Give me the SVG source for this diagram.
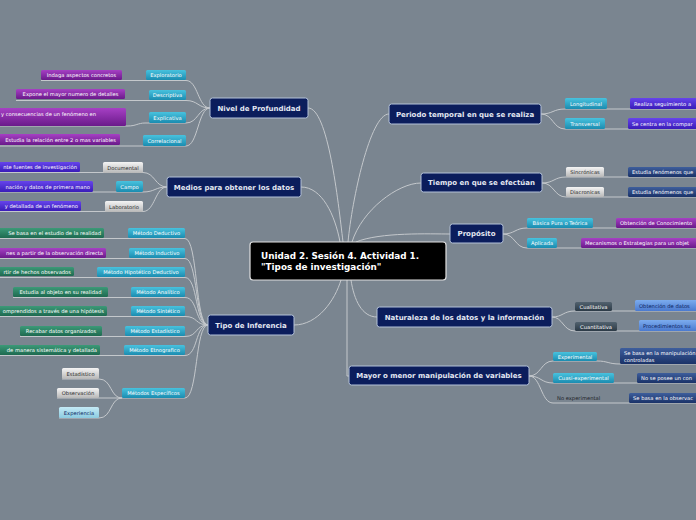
<svg xmlns="http://www.w3.org/2000/svg" width="696" height="520" viewBox="0 0 696 520">
<defs>
<linearGradient id="cy" x1="0" y1="0" x2="0" y2="1"><stop offset="0" stop-color="#48c2de"/><stop offset="1" stop-color="#1b8cb0"/></linearGradient>
<linearGradient id="pu" x1="0" y1="0" x2="0" y2="1"><stop offset="0" stop-color="#a640c4"/><stop offset="1" stop-color="#6a1a8a"/></linearGradient>
<linearGradient id="vi" x1="0" y1="0" x2="0" y2="1"><stop offset="0" stop-color="#6644ec"/><stop offset="1" stop-color="#3a1cb8"/></linearGradient>
<linearGradient id="gr" x1="0" y1="0" x2="0" y2="1"><stop offset="0" stop-color="#3c9a78"/><stop offset="1" stop-color="#1e6a50"/></linearGradient>
<linearGradient id="gy" x1="0" y1="0" x2="0" y2="1"><stop offset="0" stop-color="#f4f4f4"/><stop offset="1" stop-color="#b8b8b8"/></linearGradient>
<linearGradient id="db" x1="0" y1="0" x2="0" y2="1"><stop offset="0" stop-color="#3e5e9c"/><stop offset="1" stop-color="#1a3268"/></linearGradient>
<linearGradient id="lb" x1="0" y1="0" x2="0" y2="1"><stop offset="0" stop-color="#7cacee"/><stop offset="1" stop-color="#4a7ad0"/></linearGradient>
<linearGradient id="dg" x1="0" y1="0" x2="0" y2="1"><stop offset="0" stop-color="#52626f"/><stop offset="1" stop-color="#2c3a46"/></linearGradient>
<linearGradient id="pa" x1="0" y1="0" x2="0" y2="1"><stop offset="0" stop-color="#c4eaf6"/><stop offset="1" stop-color="#8ccbe0"/></linearGradient>
</defs>
<style>
.main rect{fill:#0b1d5c;stroke:#b4c2d8;stroke-width:1}
.main text{font-family:"DejaVu Sans",Verdana,sans-serif;font-weight:bold;font-size:7px;fill:#e4e8f2;text-anchor:middle}
.leaf text{font-family:"DejaVu Sans",Verdana,sans-serif;font-size:5.2px;fill:#ffffff}
.leaf text.dk{fill:#2a2a2a}
.leaf text.nv{fill:#0c1f5e}
.m{text-anchor:middle}
.e{text-anchor:end}
#connectors path{fill:none;stroke:#c4c8cc;stroke-width:1}
</style>
<rect width="696" height="520" fill="#7a8590"/>
<g id="connectors">
<path d="M210,108 C198,108 198,80.5 186,80.5 H41"/>
<path d="M210,108 C198,108 198,100.5 186,100.5 H16"/>
<path d="M210,108 C198,108 198,123 186,123 H145 C138,123 136,126 128,126 H0"/>
<path d="M210,108 C198,108 198,146 186,146 H0"/>
<path d="M167,187 C155,187 155,172.5 143,172.5 H0"/>
<path d="M167,187 C155,187 155,192 143,192 H0"/>
<path d="M167,187 C155,187 155,211.5 143,211.5 H0"/>
<path d="M208,325 C195,325 198,238.5 185,238.5 H0"/>
<path d="M208,325 C195,325 198,258.5 185,258.5 H0"/>
<path d="M208,325 C195,325 198,277.5 185,277.5 H0"/>
<path d="M208,325 C195,325 198,297.5 185,297.5 H13"/>
<path d="M208,325 C195,325 198,316.5 185,316.5 H0"/>
<path d="M208,325 C195,325 198,336.5 185,336.5 H20"/>
<path d="M208,325 C195,325 198,355.5 185,355.5 H0"/>
<path d="M208,325 C195,325 198,398 185,398 H57"/>
<path d="M122,398 C110,398 112,379 99,379 H62"/>
<path d="M122,398 C110,398 112,418 99,418 H59"/>
<path d="M541,114 C553,114 553,109 565,109 H696"/>
<path d="M541,114 C553,114 553,129 565,129 H696"/>
<path d="M542,183 C554,183 554,177 566,177 H696"/>
<path d="M542,183 C554,183 554,197 566,197 H696"/>
<path d="M503,234 C515,234 515,228 527,228 H696"/>
<path d="M503,234 C515,234 515,248 527,248 H696"/>
<path d="M552,317 C563,317 563,311 575,311 H696"/>
<path d="M552,317 C563,317 563,331 575,331 H696"/>
<path d="M529,376 C541,376 541,361 553,361 H597 C608,361 608,364 620,364 H696"/>
<path d="M529,376 C541,376 541,383 553,383 H696"/>
<path d="M529,376 C541,376 541,403 553,403 H696"/>
<path d="M308,108 C328,108 338,200 343,242"/>
<path d="M301,187 C322,187 335,215 340,242"/>
<path d="M389,114 C370,114 352,200 348,242"/>
<path d="M421,183 C398,183 362,210 352,242"/>
<path d="M450,234 C430,234 380,232 356,242"/>
<path d="M294,325 C318,325 335,300 341,280"/>
<path d="M377,317 C362,317 354,300 351,280"/>
<path d="M347,280 V376 H349"/>
</g>
<g id="central">
<rect x="250" y="242" width="196" height="38" rx="3" fill="#000" stroke="#e0e0e0" stroke-width="1.2"/>
<text x="261" y="258.5" font-family="DejaVu Sans, Verdana, sans-serif" font-weight="bold" font-size="8.8" fill="#fff">Unidad 2. Sesión 4. Actividad 1.</text>
<text x="261" y="269.5" font-family="DejaVu Sans, Verdana, sans-serif" font-weight="bold" font-size="8.8" fill="#fff">"Tipos de investigación"</text>
</g>
<g id="n-nivel" class="main"><rect x="210" y="98" width="98" height="20" rx="2.5"/><text x="259" y="110.5">Nivel de Profundidad</text></g>
<g id="n-medios" class="main"><rect x="167" y="177" width="134" height="20" rx="2.5"/><text x="234" y="189.5">Medios para obtener los datos</text></g>
<g id="n-tipo" class="main"><rect x="208" y="315" width="86" height="20" rx="2.5"/><text x="251" y="327.5">Tipo de Inferencia</text></g>
<g id="n-periodo" class="main"><rect x="389" y="104" width="152" height="20" rx="2.5"/><text x="465" y="116.5">Periodo temporal en que se realiza</text></g>
<g id="n-tiempo" class="main"><rect x="421" y="173" width="121" height="19" rx="2.5"/><text x="481.5" y="185">Tiempo en que se efectúan</text></g>
<g id="n-proposito" class="main"><rect x="450" y="224" width="53" height="19" rx="2.5"/><text x="476.5" y="236">Propósito</text></g>
<g id="n-naturaleza" class="main"><rect x="377" y="307" width="175" height="20" rx="2.5"/><text x="464.5" y="319.5">Naturaleza de los datos y la información</text></g>
<g id="n-mayor" class="main"><rect x="349" y="366" width="180" height="19" rx="2.5"/><text x="439" y="378">Mayor o menor manipulación de variables</text></g>

<g id="l-exploratorio" class="leaf"><rect x="146" y="70" width="40" height="10" rx="1.5" fill="url(#cy)"/><text class="m" x="166" y="77">Exploratorio</text></g>
<g id="l-indaga" class="leaf"><rect x="41" y="70" width="81" height="10" rx="1.5" fill="url(#pu)"/><text class="m" x="81.5" y="77">Indaga aspectos concretos</text></g>
<g id="l-descriptiva" class="leaf"><rect x="149" y="90" width="37" height="10" rx="1.5" fill="url(#cy)"/><text class="m" x="167.5" y="97">Descriptiva</text></g>
<g id="l-expone" class="leaf"><rect x="16" y="89" width="109" height="10" rx="1.5" fill="url(#pu)"/><text class="m" x="70.5" y="96">Expone el mayor numero de detalles</text></g>
<g id="l-explicativa" class="leaf"><rect x="149" y="112" width="37" height="11" rx="1.5" fill="url(#cy)"/><text class="m" x="167.5" y="119.5">Explicativa</text></g>
<g id="l-causas" class="leaf"><rect x="-4" y="108" width="130" height="18" rx="1.5" fill="url(#pu)"/><text x="1" y="115.5">y consecuencias de un fenómeno en</text></g>
<g id="l-correlacional" class="leaf"><rect x="143" y="135" width="43" height="11" rx="1.5" fill="url(#cy)"/><text class="m" x="164.5" y="142.5">Correlacional</text></g>
<g id="l-estudia-rel" class="leaf"><rect x="-4" y="134" width="124" height="11" rx="1.5" fill="url(#pu)"/><text class="e" x="116" y="141.5">Estudia la relación entre 2 o mas variables</text></g>

<g id="l-documental" class="leaf"><rect x="103" y="162" width="40" height="11" rx="1.5" fill="url(#gy)"/><text class="m dk" x="123" y="169.5">Documental</text></g>
<g id="l-doc-c" class="leaf"><rect x="-4" y="162" width="84" height="10" rx="1.5" fill="url(#vi)"/><text class="e" x="77" y="169">nte fuentes de investigación</text></g>
<g id="l-campo" class="leaf"><rect x="116" y="181" width="27" height="11" rx="1.5" fill="url(#cy)"/><text class="m" x="129.5" y="188.5">Campo</text></g>
<g id="l-campo-c" class="leaf"><rect x="-4" y="181" width="97" height="11" rx="1.5" fill="url(#vi)"/><text class="e" x="90" y="188.5">nación y datos de primera mano</text></g>
<g id="l-laboratorio" class="leaf"><rect x="105" y="201" width="38" height="11" rx="1.5" fill="url(#gy)"/><text class="m dk" x="124" y="208.5">Laboratorio</text></g>
<g id="l-lab-c" class="leaf"><rect x="-4" y="201" width="85" height="10" rx="1.5" fill="url(#vi)"/><text class="e" x="78" y="208">y detallada de un fenómeno</text></g>

<g id="l-deductivo" class="leaf"><rect x="128" y="228" width="57" height="10" rx="1.5" fill="url(#cy)"/><text class="m" x="156.5" y="235">Método Deductivo</text></g>
<g id="l-deductivo-c" class="leaf"><rect x="-4" y="228" width="108" height="10" rx="1.5" fill="url(#gr)"/><text class="e" x="101" y="235">Se basa en el estudio de la realidad</text></g>
<g id="l-inductivo" class="leaf"><rect x="129" y="248" width="56" height="10" rx="1.5" fill="url(#cy)"/><text class="m" x="157" y="255">Método Inductivo</text></g>
<g id="l-inductivo-c" class="leaf"><rect x="-4" y="248" width="110" height="10" rx="1.5" fill="url(#pu)"/><text class="e" x="103" y="255">nes a partir de la observación directa</text></g>
<g id="l-hipotetico" class="leaf"><rect x="97" y="267" width="88" height="10" rx="1.5" fill="url(#cy)"/><text class="m" x="141" y="274">Método Hipotético Deductivo</text></g>
<g id="l-hipotetico-c" class="leaf"><rect x="-4" y="267" width="78" height="9" rx="1.5" fill="url(#gr)"/><text class="e" x="71" y="273.5">rtir de hechos observados</text></g>
<g id="l-analitico" class="leaf"><rect x="131" y="287" width="54" height="10" rx="1.5" fill="url(#cy)"/><text class="m" x="158" y="294">Método Analítico</text></g>
<g id="l-analitico-c" class="leaf"><rect x="13" y="287" width="95" height="10" rx="1.5" fill="url(#gr)"/><text class="m" x="60.5" y="294">Estudia al objeto en su realidad</text></g>
<g id="l-sintetico" class="leaf"><rect x="131" y="306" width="54" height="10" rx="1.5" fill="url(#cy)"/><text class="m" x="158" y="313">Método Sintético</text></g>
<g id="l-sintetico-c" class="leaf"><rect x="-4" y="306" width="111" height="10" rx="1.5" fill="url(#gr)"/><text class="e" x="104" y="313">omprendidos a través de una hipótesis</text></g>
<g id="l-estadistico" class="leaf"><rect x="125" y="326" width="60" height="10" rx="1.5" fill="url(#cy)"/><text class="m" x="155" y="333">Método Estadístico</text></g>
<g id="l-estadistico-c" class="leaf"><rect x="20" y="326" width="82" height="10" rx="1.5" fill="url(#gr)"/><text class="m" x="61" y="333">Recabar datos organizados</text></g>
<g id="l-etnografico" class="leaf"><rect x="124" y="345" width="61" height="10" rx="1.5" fill="url(#cy)"/><text class="m" x="154.5" y="352">Método Etnografico</text></g>
<g id="l-etnografico-c" class="leaf"><rect x="-4" y="345" width="104" height="10" rx="1.5" fill="url(#gr)"/><text class="e" x="97" y="352">de manera sistemática y detallada</text></g>
<g id="l-especificos" class="leaf"><rect x="122" y="388" width="63" height="10" rx="1.5" fill="url(#cy)"/><text class="m" x="153.5" y="395">Métodos Específicos</text></g>
<g id="l-esp-estadistico" class="leaf"><rect x="62" y="368" width="37" height="11" rx="1.5" fill="url(#gy)"/><text class="m dk" x="80.5" y="375.5">Estadístico</text></g>
<g id="l-esp-observacion" class="leaf"><rect x="57" y="388" width="42" height="10" rx="1.5" fill="url(#gy)"/><text class="m dk" x="78" y="395">Observación</text></g>
<g id="l-esp-experiencia" class="leaf"><rect x="59" y="407" width="40" height="11" rx="1.5" fill="url(#pa)"/><text class="m nv" x="79" y="414.5">Experiencia</text></g>

<g id="l-longitudinal" class="leaf"><rect x="565" y="98" width="42" height="11" rx="1.5" fill="url(#cy)"/><text class="m" x="586" y="105.5">Longitudinal</text></g>
<g id="l-longitudinal-c" class="leaf"><rect x="630" y="98" width="70" height="11" rx="1.5" fill="url(#vi)"/><text x="634" y="105.5">Realiza seguimiento a</text></g>
<g id="l-transversal" class="leaf"><rect x="565" y="118" width="40" height="11" rx="1.5" fill="url(#cy)"/><text class="m" x="585" y="125.5">Transversal</text></g>
<g id="l-transversal-c" class="leaf"><rect x="628" y="118" width="72" height="11" rx="1.5" fill="url(#vi)"/><text x="632" y="125.5">Se centra en la compar</text></g>
<g id="l-sincronicas" class="leaf"><rect x="566" y="167" width="38" height="10" rx="1.5" fill="url(#gy)"/><text class="m dk" x="585" y="174">Sincrónicas</text></g>
<g id="l-sincronicas-c" class="leaf"><rect x="628" y="167" width="72" height="10" rx="1.5" fill="url(#db)"/><text x="632" y="174">Estudia fenómenos que</text></g>
<g id="l-diacronicas" class="leaf"><rect x="566" y="187" width="38" height="10" rx="1.5" fill="url(#gy)"/><text class="m dk" x="585" y="194">Diacronicas</text></g>
<g id="l-diacronicas-c" class="leaf"><rect x="628" y="187" width="72" height="10" rx="1.5" fill="url(#db)"/><text x="632" y="194">Estudia fenómenos que</text></g>
<g id="l-basica" class="leaf"><rect x="527" y="218" width="66" height="10" rx="1.5" fill="url(#cy)"/><text class="m" x="560" y="225">Básica Pura o Teórica</text></g>
<g id="l-basica-c" class="leaf"><rect x="616" y="218" width="84" height="10" rx="1.5" fill="url(#pu)"/><text x="620" y="225">Obtención de Conocimiento</text></g>
<g id="l-aplicada" class="leaf"><rect x="527" y="238" width="30" height="10" rx="1.5" fill="url(#cy)"/><text class="m" x="542" y="245">Aplicada</text></g>
<g id="l-aplicada-c" class="leaf"><rect x="581" y="238" width="119" height="10" rx="1.5" fill="url(#pu)"/><text x="585" y="245">Mecanismos o Estrategias para un objet</text></g>
<g id="l-cualitativa" class="leaf"><rect x="575" y="302" width="37" height="9" rx="1.5" fill="url(#dg)"/><text class="m" x="593.5" y="308.5">Cualitativa</text></g>
<g id="l-cualitativa-c" class="leaf"><rect x="635" y="300" width="65" height="11" rx="1.5" fill="url(#lb)"/><text class="nv" x="639" y="307.5">Obtención de datos</text></g>
<g id="l-cuantitativa" class="leaf"><rect x="575" y="322" width="42" height="9" rx="1.5" fill="url(#dg)"/><text class="m" x="596" y="328.5">Cuantitativa</text></g>
<g id="l-cuantitativa-c" class="leaf"><rect x="639" y="320" width="61" height="11" rx="1.5" fill="url(#lb)"/><text class="nv" x="643" y="327.5">Procedimientos su</text></g>
<g id="l-experimental" class="leaf"><rect x="553" y="352" width="44" height="9" rx="1.5" fill="url(#cy)"/><text class="m" x="575" y="358.5">Experimental</text></g>
<g id="l-experimental-c" class="leaf"><rect x="620" y="348" width="80" height="16" rx="1.5" fill="url(#db)"/><text x="624" y="354.5">Se basa en la manipulación</text><text x="624" y="361.5">controladas</text></g>
<g id="l-cuasi" class="leaf"><rect x="553" y="373" width="61" height="10" rx="1.5" fill="url(#cy)"/><text class="m" x="583.5" y="380">Cuasi-experimental</text></g>
<g id="l-cuasi-c" class="leaf"><rect x="637" y="373" width="63" height="10" rx="1.5" fill="url(#db)"/><text x="641" y="380">No se posee un con</text></g>
<g id="l-noexp" class="leaf"><text x="557" y="400" style="fill:#1c1f28">No experimental</text></g>
<g id="l-noexp-c" class="leaf"><rect x="629" y="393" width="71" height="10" rx="1.5" fill="url(#db)"/><text x="633" y="400">Se basa en la observac</text></g>
</svg>
